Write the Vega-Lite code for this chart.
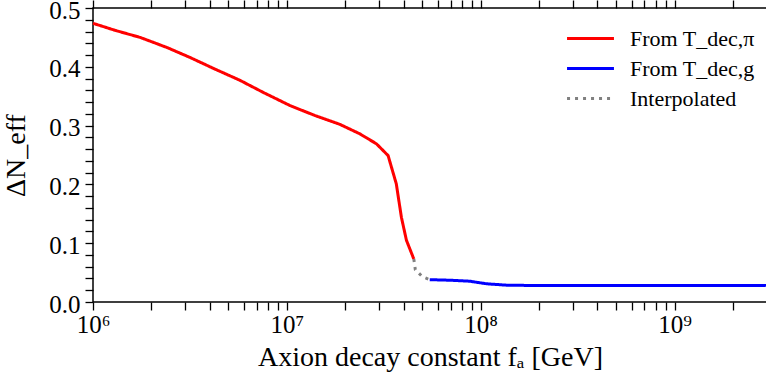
{
  "$schema": "https://vega.github.io/schema/vega-lite/v6.json",
  "width": 674,
  "height": 294,
  "autosize": "none",
  "padding": {"left": 93, "top": 8, "right": 0, "bottom": 80},
  "background": "white",
  "config": {
    "view": {"stroke": "black", "strokeWidth": 1.5},
    "axis": {
      "grid": false,
      "domain": false,
      "tickColor": "black",
      "tickWidth": 1.3,
      "tickSize": 8,
      "labelFont": "Liberation Serif",
      "labelFontSize": 25,
      "labelColor": "black",
      "titleFont": "Liberation Serif",
      "titleFontSize": 28,
      "titleColor": "black",
      "titleFontWeight": "normal"
    },
    "legend": {
      "labelFont": "Liberation Serif",
      "labelFontSize": 22,
      "labelColor": "black",
      "symbolSize": 1156,
      "symbolStrokeWidth": 3,
      "labelOffset": 21,
      "rowPadding": -4,
      "orient": "top-right",
      "offset": 12
    }
  },
  "data": {
    "values": [
      {"fa": 1.0e6, "dn": 0.474, "s": "From T_dec,π"},
      {"fa": 1.3e6, "dn": 0.462, "s": "From T_dec,π"},
      {"fa": 1.75e6, "dn": 0.450, "s": "From T_dec,π"},
      {"fa": 2.4e6, "dn": 0.433, "s": "From T_dec,π"},
      {"fa": 3.16e6, "dn": 0.416, "s": "From T_dec,π"},
      {"fa": 4.2e6, "dn": 0.397, "s": "From T_dec,π"},
      {"fa": 5.73e6, "dn": 0.377, "s": "From T_dec,π"},
      {"fa": 7.6e6, "dn": 0.356, "s": "From T_dec,π"},
      {"fa": 1.04e7, "dn": 0.334, "s": "From T_dec,π"},
      {"fa": 1.4e7, "dn": 0.317, "s": "From T_dec,π"},
      {"fa": 1.88e7, "dn": 0.302, "s": "From T_dec,π"},
      {"fa": 2.38e7, "dn": 0.286, "s": "From T_dec,π"},
      {"fa": 2.9e7, "dn": 0.269, "s": "From T_dec,π"},
      {"fa": 3.33e7, "dn": 0.249, "s": "From T_dec,π"},
      {"fa": 3.67e7, "dn": 0.201, "s": "From T_dec,π"},
      {"fa": 3.9e7, "dn": 0.144, "s": "From T_dec,π"},
      {"fa": 4.14e7, "dn": 0.105, "s": "From T_dec,π"},
      {"fa": 4.52e7, "dn": 0.073, "s": "From T_dec,π"},
      {"fa": 4.52e7, "dn": 0.073, "s": "Interpolated"},
      {"fa": 4.6e7, "dn": 0.055, "s": "Interpolated"},
      {"fa": 5.0e7, "dn": 0.043, "s": "Interpolated"},
      {"fa": 5.46e7, "dn": 0.038, "s": "Interpolated"},
      {"fa": 5.46e7, "dn": 0.038, "s": "From T_dec,g"},
      {"fa": 7.0e7, "dn": 0.037, "s": "From T_dec,g"},
      {"fa": 8.77e7, "dn": 0.0354, "s": "From T_dec,g"},
      {"fa": 1.07e8, "dn": 0.031, "s": "From T_dec,g"},
      {"fa": 1.36e8, "dn": 0.0286, "s": "From T_dec,g"},
      {"fa": 2.0e8, "dn": 0.028, "s": "From T_dec,g"},
      {"fa": 5.0e8, "dn": 0.028, "s": "From T_dec,g"},
      {"fa": 1.0e9, "dn": 0.028, "s": "From T_dec,g"},
      {"fa": 3.0e9, "dn": 0.028, "s": "From T_dec,g"}
    ]
  },
  "encoding": {
    "color": {
      "field": "s", "type": "nominal",
      "scale": {"domain": ["From T_dec,π", "From T_dec,g", "Interpolated"], "range": ["#ff0000", "#0000ff", "#808080"]},
      "legend": {"title": null, "symbolType": "M-1.38,0H1.38"}
    },
    "strokeDash": {
      "field": "s", "type": "nominal",
      "scale": {"domain": ["From T_dec,π", "From T_dec,g", "Interpolated"], "range": [[1, 0], [1, 0], [3, 5]]},
      "legend": {"title": null, "symbolType": "M-1.38,0H1.38"}
    }
  },
  "layer": [
    {
      "transform": [{"filter": "datum.s == 'From T_dec,π'"}],
      "mark": {"type": "line", "strokeWidth": 3},
      "encoding": {
        "x": {
          "field": "fa", "type": "quantitative",
          "scale": {"type": "log", "domain": [1e6, 3e9], "nice": false},
          "axis": {
            "orient": "bottom",
            "values": [1e6, 2e6, 3e6, 4e6, 5e6, 6e6, 7e6, 8e6, 9e6, 1e7, 2e7, 3e7, 4e7, 5e7, 6e7, 7e7, 8e7, 9e7, 1e8, 2e8, 3e8, 4e8, 5e8, 6e8, 7e8, 8e8, 9e8, 1e9, 2e9],
            "labelExpr": "datum.value == 1e6 ? '10⁶' : datum.value == 1e7 ? '10⁷' : datum.value == 1e8 ? '10⁸' : datum.value == 1e9 ? '10⁹' : ''",
            "labelFlush": false,
            "labelOverlap": false,
            "labelPadding": 2,
            "encode": {"ticks": {"update": {"y2": {"signal": "abs(log(datum.value)/LN10 - round(log(datum.value)/LN10)) < 0.001 ? -8 : -4"}}}},
            "title": "Axion decay constant fₐ [GeV]",
            "titlePadding": 6
          }
        },
        "y": {
          "field": "dn", "type": "quantitative",
          "scale": {"domain": [0, 0.5], "nice": false, "zero": false},
          "axis": {
            "orient": "left",
            "values": [0, 0.02, 0.04, 0.06, 0.08, 0.1, 0.12, 0.14, 0.16, 0.18, 0.2, 0.22, 0.24, 0.26, 0.28, 0.3, 0.32, 0.34, 0.36, 0.38, 0.4, 0.42, 0.44, 0.46, 0.48, 0.5],
            "labelExpr": "abs(datum.value*10 - round(datum.value*10)) < 0.001 ? format(datum.value, '.1f') : ''",
            "labelFlush": false,
            "labelOverlap": false,
            "labelPadding": 5,
            "labelOffset": 2,
            "encode": {"ticks": {"update": {"x2": {"signal": "abs(datum.value*10 - round(datum.value*10)) < 0.001 ? 8 : 4"}}}},
            "title": "ΔN_eff",
            "titlePadding": 18
          }
        }
      }
    },
    {
      "transform": [{"filter": "datum.s != 'From T_dec,π'"}],
      "mark": {"type": "line", "strokeWidth": 3},
      "encoding": {
        "x": {
          "field": "fa", "type": "quantitative",
          "axis": {
            "orient": "top",
            "values": [1e6, 2e6, 3e6, 4e6, 5e6, 6e6, 7e6, 8e6, 9e6, 1e7, 2e7, 3e7, 4e7, 5e7, 6e7, 7e7, 8e7, 9e7, 1e8, 2e8, 3e8, 4e8, 5e8, 6e8, 7e8, 8e8, 9e8, 1e9, 2e9],
            "labels": false,
            "encode": {"ticks": {"update": {"y2": {"signal": "abs(log(datum.value)/LN10 - round(log(datum.value)/LN10)) < 0.001 ? 8 : 4"}}}},
            "title": null
          }
        },
        "y": {
          "field": "dn", "type": "quantitative",
          "axis": {
            "orient": "right",
            "values": [0, 0.02, 0.04, 0.06, 0.08, 0.1, 0.12, 0.14, 0.16, 0.18, 0.2, 0.22, 0.24, 0.26, 0.28, 0.3, 0.32, 0.34, 0.36, 0.38, 0.4, 0.42, 0.44, 0.46, 0.48, 0.5],
            "labels": false,
            "encode": {"ticks": {"update": {"x2": {"signal": "abs(datum.value*10 - round(datum.value*10)) < 0.001 ? -8 : -4"}}}},
            "title": null
          }
        }
      }
    }
  ],
  "resolve": {"axis": {"x": "independent", "y": "independent"}}
}
